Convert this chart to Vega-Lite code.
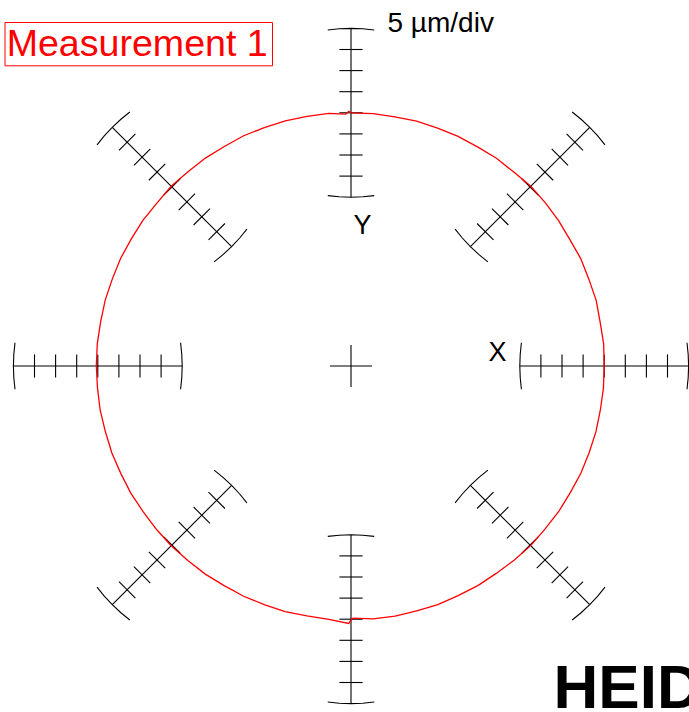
{
  "$schema": "https://vega.github.io/schema/vega-lite/v6.json",
  "width": 689,
  "height": 712,
  "autosize": "none",
  "padding": 0,
  "background": "white",
  "config": {"view": {"stroke": null}},
  "encoding": {
    "x": {"field": "x", "type": "quantitative", "axis": null, "scale": {"domain": [-16.635, 16.019], "nice": false, "zero": false}},
    "y": {"field": "y", "type": "quantitative", "axis": null, "scale": {"domain": [-16.398, 17.346], "nice": false, "zero": false}}
  },
  "layer": [
    {
      "data": {"values": [
        {"x": 8, "y": 0, "x2": 16, "y2": 0},
        {"x": 9, "y": -0.55, "x2": 9, "y2": 0.55},
        {"x": 10, "y": -0.55, "x2": 10, "y2": 0.55},
        {"x": 11, "y": -0.55, "x2": 11, "y2": 0.55},
        {"x": 12, "y": -0.55, "x2": 12, "y2": 0.55},
        {"x": 13, "y": -0.55, "x2": 13, "y2": 0.55},
        {"x": 14, "y": -0.55, "x2": 14, "y2": 0.55},
        {"x": 15, "y": -0.55, "x2": 15, "y2": 0.55},
        {"x": -8, "y": 0, "x2": -16, "y2": 0},
        {"x": -9, "y": -0.55, "x2": -9, "y2": 0.55},
        {"x": -10, "y": -0.55, "x2": -10, "y2": 0.55},
        {"x": -11, "y": -0.55, "x2": -11, "y2": 0.55},
        {"x": -12, "y": -0.55, "x2": -12, "y2": 0.55},
        {"x": -13, "y": -0.55, "x2": -13, "y2": 0.55},
        {"x": -14, "y": -0.55, "x2": -14, "y2": 0.55},
        {"x": -15, "y": -0.55, "x2": -15, "y2": 0.55},
        {"x": 0, "y": 8, "x2": 0, "y2": 16},
        {"x": -0.55, "y": 9, "x2": 0.55, "y2": 9},
        {"x": -0.55, "y": 10, "x2": 0.55, "y2": 10},
        {"x": -0.55, "y": 11, "x2": 0.55, "y2": 11},
        {"x": -0.55, "y": 12, "x2": 0.55, "y2": 12},
        {"x": -0.55, "y": 13, "x2": 0.55, "y2": 13},
        {"x": -0.55, "y": 14, "x2": 0.55, "y2": 14},
        {"x": -0.55, "y": 15, "x2": 0.55, "y2": 15},
        {"x": 0, "y": -8, "x2": 0, "y2": -16},
        {"x": -0.55, "y": -9, "x2": 0.55, "y2": -9},
        {"x": -0.55, "y": -10, "x2": 0.55, "y2": -10},
        {"x": -0.55, "y": -11, "x2": 0.55, "y2": -11},
        {"x": -0.55, "y": -12, "x2": 0.55, "y2": -12},
        {"x": -0.55, "y": -13, "x2": 0.55, "y2": -13},
        {"x": -0.55, "y": -14, "x2": 0.55, "y2": -14},
        {"x": -0.55, "y": -15, "x2": 0.55, "y2": -15},
        {"x": 5.657, "y": 5.657, "x2": 11.314, "y2": 11.314},
        {"x": 5.975, "y": 6.753, "x2": 6.753, "y2": 5.975},
        {"x": 6.682, "y": 7.46, "x2": 7.46, "y2": 6.682},
        {"x": 7.389, "y": 8.167, "x2": 8.167, "y2": 7.389},
        {"x": 8.096, "y": 8.874, "x2": 8.874, "y2": 8.096},
        {"x": 8.804, "y": 9.581, "x2": 9.581, "y2": 8.804},
        {"x": 9.511, "y": 10.288, "x2": 10.288, "y2": 9.511},
        {"x": 10.218, "y": 10.996, "x2": 10.996, "y2": 10.218},
        {"x": -5.657, "y": 5.657, "x2": -11.314, "y2": 11.314},
        {"x": -6.753, "y": 5.975, "x2": -5.975, "y2": 6.753},
        {"x": -7.46, "y": 6.682, "x2": -6.682, "y2": 7.46},
        {"x": -8.167, "y": 7.389, "x2": -7.389, "y2": 8.167},
        {"x": -8.874, "y": 8.096, "x2": -8.096, "y2": 8.874},
        {"x": -9.581, "y": 8.804, "x2": -8.804, "y2": 9.581},
        {"x": -10.288, "y": 9.511, "x2": -9.511, "y2": 10.288},
        {"x": -10.996, "y": 10.218, "x2": -10.218, "y2": 10.996},
        {"x": -5.657, "y": -5.657, "x2": -11.314, "y2": -11.314},
        {"x": -5.975, "y": -6.753, "x2": -6.753, "y2": -5.975},
        {"x": -6.682, "y": -7.46, "x2": -7.46, "y2": -6.682},
        {"x": -7.389, "y": -8.167, "x2": -8.167, "y2": -7.389},
        {"x": -8.096, "y": -8.874, "x2": -8.874, "y2": -8.096},
        {"x": -8.804, "y": -9.581, "x2": -9.581, "y2": -8.804},
        {"x": -9.511, "y": -10.288, "x2": -10.288, "y2": -9.511},
        {"x": -10.218, "y": -10.996, "x2": -10.996, "y2": -10.218},
        {"x": 5.657, "y": -5.657, "x2": 11.314, "y2": -11.314},
        {"x": 6.753, "y": -5.975, "x2": 5.975, "y2": -6.753},
        {"x": 7.46, "y": -6.682, "x2": 6.682, "y2": -7.46},
        {"x": 8.167, "y": -7.389, "x2": 7.389, "y2": -8.167},
        {"x": 8.874, "y": -8.096, "x2": 8.096, "y2": -8.874},
        {"x": 9.581, "y": -8.804, "x2": 8.804, "y2": -9.581},
        {"x": 10.288, "y": -9.511, "x2": 9.511, "y2": -10.288},
        {"x": 10.996, "y": -10.218, "x2": 10.218, "y2": -10.996},
        {"x": -1, "y": 0, "x2": 1, "y2": 0},
        {"x": 0, "y": -1, "x2": 0, "y2": 1}
      ]},
      "mark": {"type": "rule", "color": "black", "strokeWidth": 1.1},
      "encoding": {
        "x2": {"field": "x2"},
        "y2": {"field": "y2"}
      }
    },
    {
      "data": {"values": [
        {"g": "0o", "k": 0, "x": 15.924, "y": -1.0995}, {"g": "0o", "k": 1, "x": 15.98, "y": -0.558}, {"g": "0o", "k": 2, "x": 16, "y": 0}, {"g": "0o", "k": 3, "x": 15.98, "y": 0.558}, {"g": "0o", "k": 4, "x": 15.924, "y": 1.0995},
        {"g": "0i", "k": 0, "x": 8.076, "y": -1.0995}, {"g": "0i", "k": 1, "x": 8.02, "y": -0.558}, {"g": "0i", "k": 2, "x": 8, "y": 0}, {"g": "0i", "k": 3, "x": 8.02, "y": 0.558}, {"g": "0i", "k": 4, "x": 8.076, "y": 1.0995},
        {"g": "180o", "k": 0, "x": -15.924, "y": -1.0995}, {"g": "180o", "k": 1, "x": -15.98, "y": -0.558}, {"g": "180o", "k": 2, "x": -16, "y": 0}, {"g": "180o", "k": 3, "x": -15.98, "y": 0.558}, {"g": "180o", "k": 4, "x": -15.924, "y": 1.0995},
        {"g": "180i", "k": 0, "x": -8.076, "y": -1.0995}, {"g": "180i", "k": 1, "x": -8.02, "y": -0.558}, {"g": "180i", "k": 2, "x": -8, "y": 0}, {"g": "180i", "k": 3, "x": -8.02, "y": 0.558}, {"g": "180i", "k": 4, "x": -8.076, "y": 1.0995},
        {"g": "90o", "k": 0, "x": -1.0995, "y": 15.924}, {"g": "90o", "k": 1, "x": -0.558, "y": 15.98}, {"g": "90o", "k": 2, "x": 0, "y": 16}, {"g": "90o", "k": 3, "x": 0.558, "y": 15.98}, {"g": "90o", "k": 4, "x": 1.0995, "y": 15.924},
        {"g": "90i", "k": 0, "x": -1.0995, "y": 8.076}, {"g": "90i", "k": 1, "x": -0.558, "y": 8.02}, {"g": "90i", "k": 2, "x": 0, "y": 8}, {"g": "90i", "k": 3, "x": 0.558, "y": 8.02}, {"g": "90i", "k": 4, "x": 1.0995, "y": 8.076},
        {"g": "270o", "k": 0, "x": -1.0995, "y": -15.924}, {"g": "270o", "k": 1, "x": -0.558, "y": -15.98}, {"g": "270o", "k": 2, "x": 0, "y": -16}, {"g": "270o", "k": 3, "x": 0.558, "y": -15.98}, {"g": "270o", "k": 4, "x": 1.0995, "y": -15.924},
        {"g": "270i", "k": 0, "x": -1.0995, "y": -8.076}, {"g": "270i", "k": 1, "x": -0.558, "y": -8.02}, {"g": "270i", "k": 2, "x": 0, "y": -8}, {"g": "270i", "k": 3, "x": 0.558, "y": -8.02}, {"g": "270i", "k": 4, "x": 1.0995, "y": -8.076},
        {"g": "45o", "k": 0, "x": 12.037, "y": 10.483}, {"g": "45o", "k": 1, "x": 11.694, "y": 10.905}, {"g": "45o", "k": 2, "x": 11.314, "y": 11.314}, {"g": "45o", "k": 3, "x": 10.905, "y": 11.694}, {"g": "45o", "k": 4, "x": 10.483, "y": 12.037},
        {"g": "45i", "k": 0, "x": 6.488, "y": 4.933}, {"g": "45i", "k": 1, "x": 6.066, "y": 5.276}, {"g": "45i", "k": 2, "x": 5.657, "y": 5.657}, {"g": "45i", "k": 3, "x": 5.276, "y": 6.066}, {"g": "45i", "k": 4, "x": 4.933, "y": 6.488},
        {"g": "135o", "k": 0, "x": -12.037, "y": 10.483}, {"g": "135o", "k": 1, "x": -11.694, "y": 10.905}, {"g": "135o", "k": 2, "x": -11.314, "y": 11.314}, {"g": "135o", "k": 3, "x": -10.905, "y": 11.694}, {"g": "135o", "k": 4, "x": -10.483, "y": 12.037},
        {"g": "135i", "k": 0, "x": -6.488, "y": 4.933}, {"g": "135i", "k": 1, "x": -6.066, "y": 5.276}, {"g": "135i", "k": 2, "x": -5.657, "y": 5.657}, {"g": "135i", "k": 3, "x": -5.276, "y": 6.066}, {"g": "135i", "k": 4, "x": -4.933, "y": 6.488},
        {"g": "225o", "k": 0, "x": -12.037, "y": -10.483}, {"g": "225o", "k": 1, "x": -11.694, "y": -10.905}, {"g": "225o", "k": 2, "x": -11.314, "y": -11.314}, {"g": "225o", "k": 3, "x": -10.905, "y": -11.694}, {"g": "225o", "k": 4, "x": -10.483, "y": -12.037},
        {"g": "225i", "k": 0, "x": -6.488, "y": -4.933}, {"g": "225i", "k": 1, "x": -6.066, "y": -5.276}, {"g": "225i", "k": 2, "x": -5.657, "y": -5.657}, {"g": "225i", "k": 3, "x": -5.276, "y": -6.066}, {"g": "225i", "k": 4, "x": -4.933, "y": -6.488},
        {"g": "315o", "k": 0, "x": 12.037, "y": -10.483}, {"g": "315o", "k": 1, "x": 11.694, "y": -10.905}, {"g": "315o", "k": 2, "x": 11.314, "y": -11.314}, {"g": "315o", "k": 3, "x": 10.905, "y": -11.694}, {"g": "315o", "k": 4, "x": 10.483, "y": -12.037},
        {"g": "315i", "k": 0, "x": 6.488, "y": -4.933}, {"g": "315i", "k": 1, "x": 6.066, "y": -5.276}, {"g": "315i", "k": 2, "x": 5.657, "y": -5.657}, {"g": "315i", "k": 3, "x": 5.276, "y": -6.066}, {"g": "315i", "k": 4, "x": 4.933, "y": -6.488}
      ]},
      "mark": {"type": "line", "color": "black", "strokeWidth": 1.1},
      "encoding": {
        "detail": {"field": "g", "type": "nominal"},
        "order": {"field": "k", "type": "quantitative"}
      }
    },
    {
      "data": {"values": [
        {"k": 0, "x": 12.0, "y": 0},
        {"k": 1, "x": 11.974, "y": 1.048},
        {"k": 2, "x": 11.808, "y": 2.082},
        {"k": 3, "x": 11.62, "y": 3.114},
        {"k": 4, "x": 11.276, "y": 4.104},
        {"k": 5, "x": 10.894, "y": 5.08},
        {"k": 6, "x": 10.375, "y": 5.99},
        {"k": 7, "x": 9.838, "y": 6.889},
        {"k": 8, "x": 9.215, "y": 7.733},
        {"k": 9, "x": 8.521, "y": 8.521},
        {"k": 10, "x": 7.713, "y": 9.192},
        {"k": 11, "x": 6.894, "y": 9.846},
        {"k": 12, "x": 5.995, "y": 10.384},
        {"k": 13, "x": 5.076, "y": 10.885},
        {"k": 14, "x": 4.104, "y": 11.276},
        {"k": 15, "x": 3.111, "y": 11.61},
        {"k": 16, "x": 2.082, "y": 11.808},
        {"k": 17, "x": 1.047, "y": 11.964},
        {"k": 18, "x": 0, "y": 12.0},
        {"k": 19, "x": -0.105, "y": 12.07},
        {"k": 20, "x": -0.25, "y": 11.937},
        {"k": 21, "x": -1.048, "y": 11.974},
        {"k": 22, "x": -2.086, "y": 11.828},
        {"k": 23, "x": -3.114, "y": 11.62},
        {"k": 24, "x": -4.111, "y": 11.295},
        {"k": 25, "x": -5.088, "y": 10.912},
        {"k": 26, "x": -6.005, "y": 10.401},
        {"k": 27, "x": -6.9, "y": 9.854},
        {"k": 28, "x": -7.726, "y": 9.208},
        {"k": 29, "x": -8.521, "y": 8.521},
        {"k": 30, "x": -9.2, "y": 7.72},
        {"k": 31, "x": -9.863, "y": 6.906},
        {"k": 32, "x": -10.418, "y": 6.015},
        {"k": 33, "x": -10.921, "y": 5.093},
        {"k": 34, "x": -11.314, "y": 4.118},
        {"k": 35, "x": -11.649, "y": 3.121},
        {"k": 36, "x": -11.867, "y": 2.092},
        {"k": 37, "x": -12.024, "y": 1.052},
        {"k": 38, "x": -12.07, "y": 0},
        {"k": 39, "x": -12.014, "y": -1.051},
        {"k": 40, "x": -11.887, "y": -2.096},
        {"k": 41, "x": -11.639, "y": -3.119},
        {"k": 42, "x": -11.333, "y": -4.125},
        {"k": 43, "x": -10.912, "y": -5.088},
        {"k": 44, "x": -10.436, "y": -6.025},
        {"k": 45, "x": -9.854, "y": -6.9},
        {"k": 46, "x": -9.223, "y": -7.739},
        {"k": 47, "x": -8.521, "y": -8.521},
        {"k": 48, "x": -7.733, "y": -9.215},
        {"k": 49, "x": -6.906, "y": -9.863},
        {"k": 50, "x": -6.01, "y": -10.41},
        {"k": 51, "x": -5.088, "y": -10.912},
        {"k": 52, "x": -4.114, "y": -11.304},
        {"k": 53, "x": -3.119, "y": -11.639},
        {"k": 54, "x": -2.089, "y": -11.847},
        {"k": 55, "x": -1.05, "y": -12.004},
        {"k": 56, "x": -0.106, "y": -12.2},
        {"k": 57, "x": 0, "y": -12.04},
        {"k": 58, "x": 0.1, "y": -11.95},
        {"k": 59, "x": 1.049, "y": -11.984},
        {"k": 60, "x": 2.091, "y": -11.857},
        {"k": 61, "x": 3.111, "y": -11.61},
        {"k": 62, "x": 4.114, "y": -11.304},
        {"k": 63, "x": 5.076, "y": -10.885},
        {"k": 64, "x": 6.01, "y": -10.41},
        {"k": 65, "x": 6.883, "y": -9.83},
        {"k": 66, "x": 7.726, "y": -9.208},
        {"k": 67, "x": 8.514, "y": -8.514},
        {"k": 68, "x": 9.2, "y": -7.72},
        {"k": 69, "x": 9.846, "y": -6.894},
        {"k": 70, "x": 10.392, "y": -6.0},
        {"k": 71, "x": 10.894, "y": -5.08},
        {"k": 72, "x": 11.286, "y": -4.108},
        {"k": 73, "x": 11.61, "y": -3.111},
        {"k": 74, "x": 11.818, "y": -2.084},
        {"k": 75, "x": 11.964, "y": -1.047},
        {"k": 76, "x": 12.0, "y": 0}
      ]},
      "mark": {"type": "line", "color": "#ff0000", "strokeWidth": 1.3},
      "encoding": {
        "order": {"field": "k", "type": "quantitative"}
      }
    },
    {
      "data": {"values": [{"x": -16.398, "x2": -3.72, "y": 16.28, "y2": 14.227}]},
      "mark": {"type": "rect", "fill": "white", "fillOpacity": 0, "stroke": "#ff0000", "strokeWidth": 1},
      "encoding": {
        "x2": {"field": "x2"},
        "y2": {"field": "y2"}
      }
    },
    {
      "data": {"values": [{"t": "Measurement 1", "x": -16.32, "y": 14.692}]},
      "mark": {"type": "text", "align": "left", "baseline": "alphabetic", "font": "Liberation Sans", "fontSize": 37.6, "color": "#ff0000"},
      "encoding": {"text": {"field": "t"}}
    },
    {
      "data": {"values": [{"t": "5 µm/div", "x": 1.73, "y": 15.844}]},
      "mark": {"type": "text", "align": "left", "baseline": "alphabetic", "font": "Liberation Sans", "fontSize": 28, "color": "black"},
      "encoding": {"text": {"field": "t"}}
    },
    {
      "data": {"values": [{"t": "Y", "x": 0.545, "y": 6.256}, {"t": "X", "x": 6.943, "y": 0.251}]},
      "mark": {"type": "text", "align": "center", "baseline": "alphabetic", "font": "Liberation Sans", "fontSize": 27, "color": "black"},
      "encoding": {"text": {"field": "t"}}
    },
    {
      "data": {"values": [{"t": "HEIDENHAIN", "x": 9.6, "y": -16.223}]},
      "mark": {"type": "text", "align": "left", "baseline": "alphabetic", "font": "Liberation Sans", "fontSize": 62, "fontWeight": "bold", "color": "black"},
      "encoding": {"text": {"field": "t"}}
    }
  ]
}
